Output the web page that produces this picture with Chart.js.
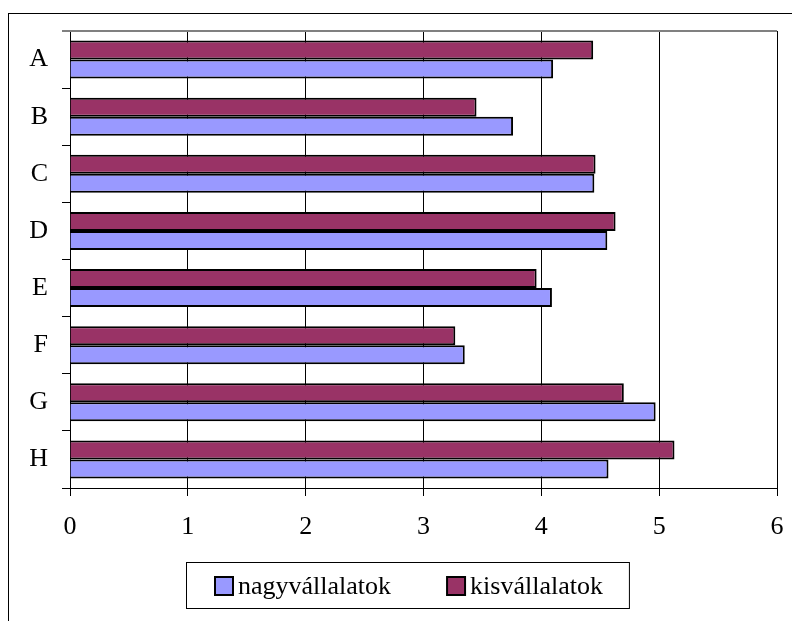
<!DOCTYPE html>
<html>
<head>
<meta charset="utf-8">
<title>nagyvállalatok / kisvállalatok</title>
<script src="https://cdn.jsdelivr.net/npm/chart.js@4/dist/chart.umd.min.js"></script>
<style>
    html, body { margin: 0; padding: 0; background: #fff; }
    #wrap { width: 792px; height: 621px; }
</style>
</head>
<body>
<div id="wrap"><canvas id="bar-chart" width="792" height="621"></canvas></div>
<script>
    "use strict";

    // Adatok
    var categories = ["A", "B", "C", "D", "E", "F", "G", "H"];
    var kisvallalatok = [4.44, 3.45, 4.46, 4.63, 3.96, 3.27, 4.70, 5.13];
    var nagyvallalatok = [4.10, 3.76, 4.45, 4.56, 4.09, 3.35, 4.97, 4.57];
    var xTicks = [0, 1, 2, 3, 4, 5, 6];

    var serif = "'Liberation Serif', 'Times New Roman', serif";
    Chart.defaults.color = "#000";
    Chart.defaults.font.family = serif;
    Chart.defaults.font.size = 26;

    // Keret, a rajzterulet teteje es a keretes legenda (Excel stilus)
    var frame = {
        id: "frame",
        beforeDraw: function (chart) {
            var c = chart.ctx;
            c.save();
            c.fillStyle = "#fff";
            c.fillRect(0, 0, chart.width, chart.height);
            c.strokeStyle = "#000";
            c.lineWidth = 1;
            c.strokeRect(8.5, 13.5, 900, 700);
            c.restore();
        },
        afterDraw: function (chart) {
            var c = chart.ctx;
            var a = chart.chartArea;
            c.save();
            c.strokeStyle = "#808080";
            c.lineWidth = 2;
            c.beginPath();
            c.moveTo(a.left - 8, a.top);
            c.lineTo(a.right, a.top);
            c.stroke();

            // legenda: nagyvállalatok elol, kisvállalatok utana
            var items = chart.data.datasets.slice().reverse();
            c.font = "26px " + serif;
            var widths = items.map(function (d) { return 24 + c.measureText(d.label).width; });
            var total = widths.reduce(function (s, w) { return s + w; }, 0) + 55 * (items.length - 1);
            var cy = 586;
            var x = Math.round(408 - total / 2);
            var left = x - 28;
            c.textBaseline = "middle";
            c.textAlign = "left";
            items.forEach(function (d, i) {
                c.fillStyle = d.backgroundColor;
                c.fillRect(x + 1, cy - 9, 18, 18);
                c.strokeStyle = "#000";
                c.lineWidth = 2;
                c.strokeRect(x + 1, cy - 9, 18, 18);
                c.fillStyle = "#000";
                c.fillText(d.label, x + 24, cy + 1);
                x += widths[i] + (i < items.length - 1 ? 55 : 0);
            });
            c.strokeStyle = "#000";
            c.lineWidth = 1;
            c.strokeRect(left + 0.5, cy - 23.5, x + 26 - left, 46);
            c.restore();
        },
    };

    var ctx = document.getElementById("bar-chart").getContext("2d");
    var myChart = new Chart(ctx, {
        type: "bar",
        data: {
            labels: categories,
            datasets: [
                {
                    label: "kisvállalatok",
                    backgroundColor: "#993366",
                    borderColor: "#000",
                    borderWidth: 2,
                    data: kisvallalatok,
                },
                {
                    label: "nagyvállalatok",
                    backgroundColor: "#9999FF",
                    borderColor: "#000",
                    borderWidth: 2,
                    data: nagyvallalatok,
                },
            ],
        },
        options: {
            indexAxis: "y",
            responsive: false,
            animation: false,
            datasets: {
                bar: {
                    categoryPercentage: 0.665,
                    barPercentage: 1,
                },
            },
            layout: {
                padding: { left: 0, right: 15, top: 31, bottom: 76 },
            },
            scales: {
                x: {
                    min: 0,
                    max: 6,
                    afterBuildTicks: function (scale) {
                        scale.ticks = xTicks.map(function (v) { return { value: v }; });
                    },
                    afterFit: function (scale) {
                        scale.height = 57;
                        scale.paddingLeft = 0;
                        scale.paddingRight = 0;
                    },
                    grid: {
                        color: "#000",
                        lineWidth: 1,
                        tickLength: 8,
                    },
                    border: { color: "#000", width: 1 },
                    ticks: {
                        padding: 16,
                        font: { size: 26 },
                    },
                },
                y: {
                    afterFit: function (scale) {
                        scale.width = 70;
                        scale.paddingTop = 0;
                        scale.paddingBottom = 0;
                    },
                    grid: {
                        offset: true,
                        drawOnChartArea: false,
                        color: "#000",
                        tickLength: 8,
                    },
                    border: { color: "#000", width: 1 },
                    ticks: {
                        padding: 14,
                        font: { size: 26 },
                    },
                },
            },
            plugins: {
                legend: { display: false },
                tooltip: { enabled: false },
            },
        },
        plugins: [frame],
    });
</script>
</body>
</html>
